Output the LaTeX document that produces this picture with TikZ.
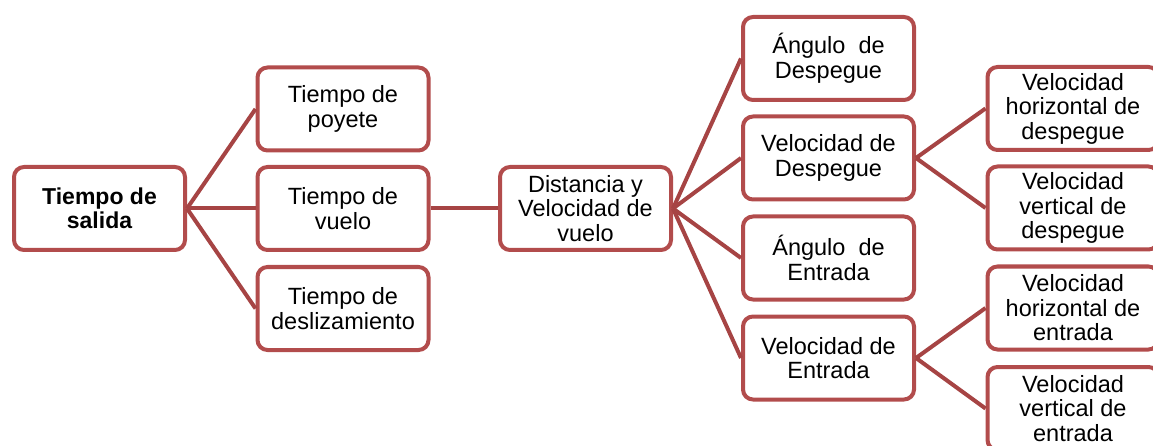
\documentclass[tikz,border=0pt]{standalone}
\usepackage{fontspec}
\setmainfont{Liberation Sans}
\definecolor{boxred}{RGB}{178,76,76}
\definecolor{linered}{RGB}{166,68,68}
\begin{document}
\begin{tikzpicture}[x=1pt,y=-1pt,
    box/.style={draw=boxred, line width=4pt, rounded corners=10pt, fill=white,
                minimum width=171pt, minimum height=83pt, align=center,
                inner sep=2pt, font=\fontsize{23.5}{24.5}\selectfont},
    link/.style={draw=linered, line width=4pt}]
            % Fix the page size
            \useasboundingbox (0,0) rectangle (1153,446);

            % First level
            \node[box, font=\fontsize{23}{24.5}\selectfont\bfseries] (salida) at (99.5,208.5) {Tiempo de\\salida};
            \node[box] (poyete) at (343,109) {Tiempo de\\poyete};
            \node[box] (vuelo) at (343,208.5) {Tiempo de\\vuelo};
            \node[box] (desliz) at (343,308.5) {Tiempo de\\deslizamiento};

            % Flight distance and speed
            \node[box] (distancia) at (585.5,208.5) {Distancia y\\Velocidad de\\vuelo};
            \node[box] (angdesp) at (828.5,58.5) {Ángulo\ \ de\\Despegue};
            \node[box] (veldesp) at (828.5,158) {Velocidad de\\Despegue};
            \node[box] (angent) at (828.5,258) {Ángulo\ \ de\\Entrada};
            \node[box] (velent) at (828.5,358) {Velocidad de\\Entrada};

            % Velocity components
            \node[box] (hdesp) at (1073,108.5) {Velocidad\\horizontal de\\despegue};
            \node[box] (vdesp) at (1073,208) {Velocidad\\vertical de\\despegue};
            \node[box] (hent) at (1073,308) {Velocidad\\horizontal de\\entrada};
            \node[box] (vent) at (1073,408.5) {Velocidad\\vertical de\\entrada};

            % Draw the connectors
            \foreach \child in {poyete,vuelo,desliz}
                \draw[link] (salida.east) -- (\child.west);
            \draw[link] (vuelo.east) -- (distancia.west);
            \foreach \child in {angdesp,veldesp,angent,velent}
                \draw[link] (distancia.east) -- (\child.west);
            \draw[link] (veldesp.east) -- (hdesp.west);
            \draw[link] (veldesp.east) -- (vdesp.west);
            \draw[link] (velent.east) -- (hent.west);
            \draw[link] (velent.east) -- (vent.west);
        \end{tikzpicture}
\end{document}
